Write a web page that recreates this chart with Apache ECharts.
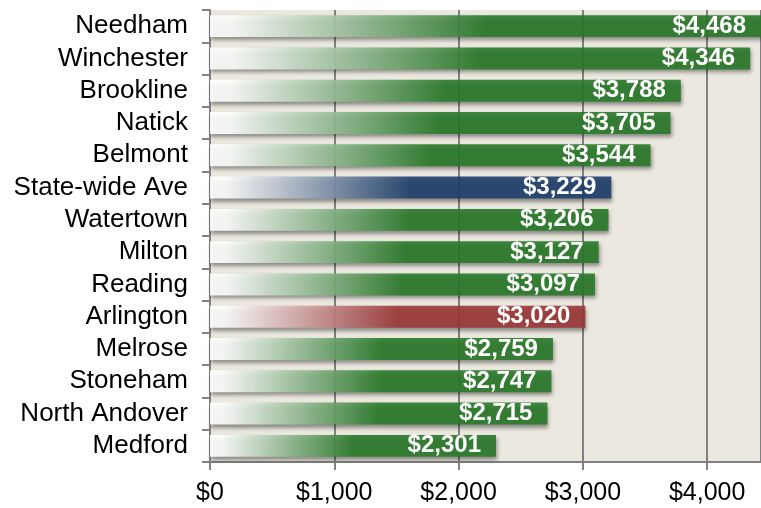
<!DOCTYPE html>
<html>
<head>
<meta charset="utf-8">
<script src="https://cdn.jsdelivr.net/npm/echarts@6/dist/echarts.min.js"></script>
<style>
  html, body { margin: 0; padding: 0; background: #fff; }
  #chart { width: 761px; height: 508px; }
</style>
</head>
<body>
<div id="chart"></div>
<script>
// per-pupil cost by town (top row first)
const towns = ['Needham', 'Winchester', 'Brookline', 'Natick', 'Belmont', 'State-wide Ave',
  'Watertown', 'Milton', 'Reading', 'Arlington', 'Melrose', 'Stoneham', 'North Andover', 'Medford'];
const costs = [4468, 4346, 3788, 3705, 3544, 3229, 3206, 3127, 3097, 3020, 2759, 2747, 2715, 2301];
const xTicks = [0, 1000, 2000, 3000, 4000];

const GREEN = '#2a7a2a';
const special = { 'State-wide Ave': '#1f3f6c', 'Arlington': '#9c3838' };

function fade(c) {
  return new echarts.graphic.LinearGradient(0, 0, 1, 0, [
    { offset: 0, color: '#ffffff' },
    { offset: 0.04, color: '#ffffff' },
    { offset: 0.5, color: c },
    { offset: 1, color: c }
  ]);
}

const fmt = v => '$' + v.toLocaleString('en-US');

const chart = echarts.init(document.getElementById('chart'));
chart.setOption({
  animation: false,
  textStyle: { fontFamily: 'Liberation Sans, Arial, sans-serif' },
  grid: {
    left: 210, right: 0, top: 10, bottom: 46,
    show: true, backgroundColor: '#ebe8df', borderWidth: 0
  },
  xAxis: {
    type: 'value',
    min: 0,
    max: 4433,
    interval: 1000,
    axisLine: { show: true, lineStyle: { color: '#808080', width: 2 } },
    axisTick: { show: true, length: 8, lineStyle: { color: '#808080', width: 2 } },
    axisLabel: {
      color: '#000', fontSize: 25, margin: 19, showMaxLabel: false,
      formatter: v => xTicks.includes(v) ? fmt(v) : ''
    },
    splitLine: { show: true, lineStyle: { color: '#808080', width: 2 } }
  },
  yAxis: {
    type: 'category',
    inverse: true,
    data: towns,
    axisLine: { show: true, lineStyle: { color: '#808080', width: 2 } },
    axisTick: { show: true, length: 8, lineStyle: { color: '#808080', width: 2 } },
    axisLabel: { color: '#000', fontSize: 26, margin: 22, interval: 0 }
  },
  series: [{
    type: 'bar',
    barCategoryGap: '32%',
    data: costs.map((v, i) => ({
      value: v,
      itemStyle: { color: fade(special[towns[i]] || GREEN) }
    })),
    itemStyle: {
      opacity: 0.9,
      shadowColor: 'rgba(0,0,0,0.45)',
      shadowBlur: 4,
      shadowOffsetX: 1,
      shadowOffsetY: 3
    },
    label: {
      show: true,
      position: 'insideRight',
      distance: 15,
      color: '#fff',
      opacity: 1,
      fontWeight: 'bold',
      fontSize: 24,
      formatter: p => fmt(p.value)
    }
  }]
});
</script>
</body>
</html>
